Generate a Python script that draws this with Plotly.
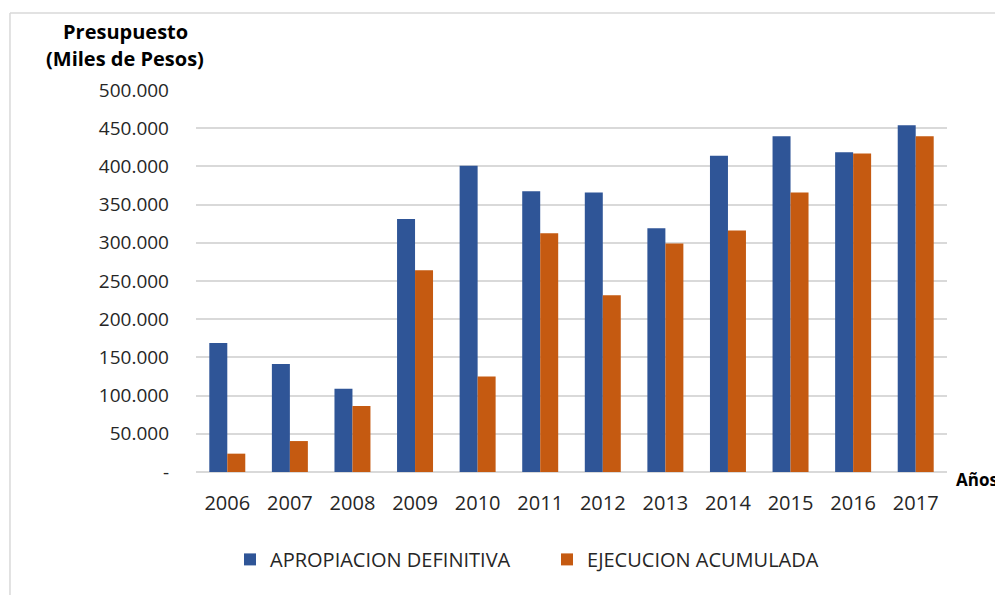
import plotly.graph_objects as go

years = ["2006", "2007", "2008", "2009", "2010", "2011", "2012", "2013", "2014", "2015", "2016", "2017"]
apropiacion = [169000, 141500, 109000, 331000, 401000, 367500, 366000, 319000, 414000, 439500, 418500, 454000]
ejecucion = [24000, 40500, 86500, 264000, 125000, 312500, 231500, 299000, 316000, 366000, 417000, 439500]
tick_vals = [0, 50000, 100000, 150000, 200000, 250000, 300000, 350000, 400000, 450000, 500000]
tick_text = ["-", "50.000", "100.000", "150.000", "200.000", "250.000", "300.000", "350.000", "400.000", "450.000", "500.000"]

font = "Open Sans, sans-serif"

fig = go.Figure()
fig.add_trace(go.Bar(x=years, y=apropiacion, name="APROPIACION DEFINITIVA",
                     marker=dict(color="#2F5597", line=dict(width=0))))
fig.add_trace(go.Bar(x=years, y=ejecucion, name="EJECUCION ACUMULADA",
                     marker=dict(color="#C55A11", line=dict(width=0))))

fig.update_layout(
    width=1003, height=595,
    margin=dict(l=188, r=64, t=82, b=130.5, autoexpand=False),
    paper_bgcolor="white", plot_bgcolor="white",
    barmode="group", bargap=0.425, bargroupgap=0,
    showlegend=True,
    legend=dict(orientation="h", x=0.0453, y=-0.2288, xanchor="left", yanchor="middle",
                font=dict(family=font, size=20, color="#262626"), itemwidth=30,
                entrywidth=272, traceorder="normal"),
    xaxis=dict(tickfont=dict(family=font, size=20, color="#262626"), ticks="",
               showgrid=False, showline=False, ticklabelstandoff=17),
    yaxis=dict(range=[0, 500000], tickvals=tick_vals, ticktext=tick_text,
               tickfont=dict(family=font, size=19, color="#262626"),
               showgrid=True, gridcolor="#d9d9d9", gridwidth=1.5,
               zeroline=True, zerolinecolor="#d9d9d9", zerolinewidth=2,
               showline=False, ticks="", ticklabelstandoff=26),
    annotations=[
        dict(text="<b>Presupuesto</b>", xref="paper", yref="paper", x=-0.0945, y=1.1525,
             xanchor="center", yanchor="middle", showarrow=False,
             font=dict(family=font, size=20, color="#000000")),
        dict(text="<b>(Miles de Pesos)</b>", xref="paper", yref="paper", x=-0.0945, y=1.0824,
             xanchor="center", yanchor="middle", showarrow=False,
             font=dict(family=font, size=20, color="#000000")),
        dict(text="<b>Años</b>", xref="paper", yref="paper", x=1.0094, y=-0.0196,
             xanchor="left", yanchor="middle", showarrow=False,
             font=dict(family=font, size=17, color="#000000")),
    ],
    shapes=[
        dict(type="line", xref="paper", yref="paper", x0=-0.2477, x1=1.1, y0=1.2013, y1=1.2013,
             line=dict(color="#d9d9d9", width=1.5)),
        dict(type="line", xref="paper", yref="paper", x0=-0.2477, x1=-0.2477, y0=1.2013, y1=-0.33,
             line=dict(color="#d9d9d9", width=1.5)),
    ],
)

fig.write_html("out.html")
